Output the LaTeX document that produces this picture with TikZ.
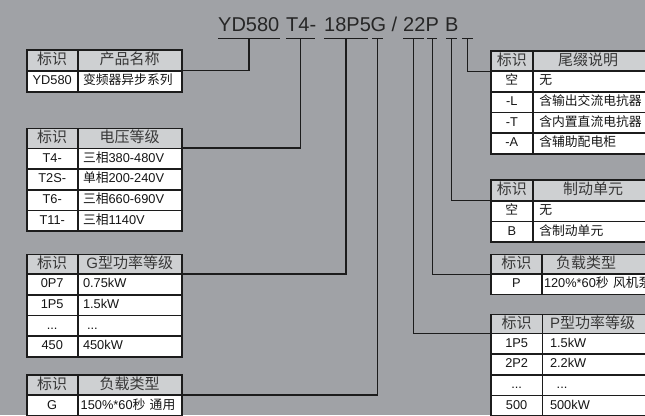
\documentclass[tikz,border=0pt]{standalone}
\usepackage{fontspec}
\setmainfont{Liberation Sans}
\newfontfamily\cjk{Noto Sans CJK SC}
\definecolor{bgC}{HTML}{A0A2A6}
\definecolor{hdrC}{HTML}{CED0D2}
\definecolor{lineC}{HTML}{1C1C1C}
\definecolor{hdrtxt}{HTML}{383838}
\definecolor{bodyC}{HTML}{151515}
\definecolor{titleC}{HTML}{262626}
\newcommand{\mkc}[7]{%
  \node[#6, minimum width=#4pt, minimum height=#5pt, text width=#4pt] (#1) at (#2,#3) {#7};}
\tikzset{
  cellbase/.style={draw=lineC, line width=1.6pt, inner sep=0pt, outer sep=0pt, anchor=north west},
  bc/.style={cellbase, fill=white, font=\fontsize{12.8}{14}\selectfont, text=bodyC, align=center, text height=9.6pt, text depth=2.6pt},
  bl/.style={bc, align=left},
  hc/.style={cellbase, fill=hdrC, font=\fontsize{15}{16}\selectfont, text=hdrtxt, align=center, text height=11.4pt, text depth=2.4pt},
  hl/.style={hc, align=left},
  ttl/.style={anchor=base west, inner sep=0pt, font=\fontsize{20}{22}\selectfont, text=titleC},
  ul/.style={draw=lineC, line width=1.8pt},
  connA/.style={draw=lineC, line width=1.3pt},
  connB/.style={draw=lineC, line width=1.8pt},
  connC/.style={draw=lineC, line width=1.0pt},
}
\begin{document}
\begin{tikzpicture}[x=1pt,y=-1pt]
\useasboundingbox (0,0) rectangle (645,415);
\clip (0,0) rectangle (645,415);
\fill[bgC] (0,0) rectangle (645,415);

% title pieces
\node[ttl] (tYD) at (218,31.7) {YD580};
\node[ttl] (tT4) at (286,31.7) {T4-};
\node[ttl] (t18) at (324,31.7) {18P5};
\node[ttl] (tG)  at (370.5,31.7) {G};
\node[ttl] (tSl) at (391.5,31.7) {/};
\node[ttl] (t22) at (403,31.7) {22};
\node[ttl] (tP)  at (425.5,31.7) {P};
\node[ttl] (tB)  at (445,31.7) {B};

% underline coordinates
\coordinate (ulYDa) at (218,38.5); \coordinate (ulYDb) at (280,38.5); \coordinate (uYD) at (249,38.5);
\coordinate (ulT4a) at (286,38.5); \coordinate (ulT4b) at (315,38.5); \coordinate (uT4) at (300.5,38.5);
\coordinate (ul18a) at (324,38.5); \coordinate (ul18b) at (368,38.5); \coordinate (u18) at (346,38.5);
\coordinate (ulGa) at (372,38.5);  \coordinate (ulGb) at (383,38.5);  \coordinate (uG) at (377.5,38.5);
\coordinate (ul22a) at (403,38.5); \coordinate (ul22b) at (424,38.5); \coordinate (u22) at (413.5,38.5);
\coordinate (ulPa) at (427,38.5);  \coordinate (ulPb) at (437,38.5);  \coordinate (uP) at (432,38.5);
\coordinate (ulBa) at (446,38.5);  \coordinate (ulBb) at (457,38.5);  \coordinate (uB) at (451.5,38.5);
\coordinate (ulSa) at (462,38.5);  \coordinate (ulSb) at (473,38.5);  \coordinate (uS) at (467.5,38.5);

\draw[ul] (ulYDa) -- (ulYDb);
\draw[ul] (ulT4a) -- (ulT4b);
\draw[ul] (ul18a) -- (ul18b);
\draw[ul] (ulGa) -- (ulGb);
\draw[ul] (ul22a) -- (ul22b);
\draw[ul] (ulPa) -- (ulPb);
\draw[ul] (ulBa) -- (ulBb);
\draw[ul] (ulSa) -- (ulSb);

% ---- Table A: product name
\mkc{Ah1}{26.7}{50}{51}{20.7}{hc}{\cjk 标识}
\mkc{Ah2}{77.7}{50}{104}{20.7}{hc}{\cjk 产品名称}
\mkc{Ar1}{26.7}{70.7}{51}{21}{bc}{YD580}
\mkc{Ar2}{77.7}{70.7}{104}{21}{bl}{\hspace*{5.3pt}{\cjk 变频器异步系列}}

% ---- Table B: voltage
\mkc{Bh1}{26.7}{128.3}{51}{20}{hc}{\cjk 标识}
\mkc{Bh2}{77.7}{128.3}{104}{20}{hc}{\cjk 电压等级}
\mkc{Ba1}{26.7}{148.3}{51}{20.7}{bc}{T4-}
\mkc{Ba2}{77.7}{148.3}{104}{20.7}{bl}{\hspace*{5.3pt}{\cjk 三相}380-480V}
\mkc{Bb1}{26.7}{169}{51}{20.7}{bc}{T2S-}
\mkc{Bb2}{77.7}{169}{104}{20.7}{bl}{\hspace*{5.3pt}{\cjk 单相}200-240V}
\mkc{Bc1}{26.7}{189.7}{51}{20.7}{bc}{T6-}
\mkc{Bc2}{77.7}{189.7}{104}{20.7}{bl}{\hspace*{5.3pt}{\cjk 三相}660-690V}
\mkc{Bd1}{26.7}{210.4}{51}{20.7}{bc}{T11-}
\mkc{Bd2}{77.7}{210.4}{104}{20.7}{bl}{\hspace*{5.3pt}{\cjk 三相}1140V}

% ---- Table C: G power
\mkc{Ch1}{26.7}{254.3}{51}{19.7}{hc}{\cjk 标识}
\mkc{Ch2}{77.7}{254.3}{104}{19.7}{hc}{G{\cjk 型功率等级}}
\mkc{Ca1}{26.7}{274}{51}{20.7}{bc}{0P7}
\mkc{Ca2}{77.7}{274}{104}{20.7}{bl}{\hspace*{5.3pt}0.75kW}
\mkc{Cb1}{26.7}{294.7}{51}{20.7}{bc}{1P5}
\mkc{Cb2}{77.7}{294.7}{104}{20.7}{bl}{\hspace*{5.3pt}1.5kW}
\mkc{Cc1}{26.7}{315.4}{51}{20.7}{bc}{...}
\mkc{Cc2}{77.7}{315.4}{104}{20.7}{bl}{\hspace*{9.3pt}...}
\mkc{Cd1}{26.7}{336.1}{51}{20.7}{bc}{450}
\mkc{Cd2}{77.7}{336.1}{104}{20.7}{bl}{\hspace*{5.3pt}450kW}

% ---- Table D: G load
\mkc{Dh1}{26.7}{375}{51}{20}{hc}{\cjk 标识}
\mkc{Dh2}{77.7}{375}{104}{20}{hc}{\cjk 负载类型}
\mkc{Da1}{26.7}{395}{51}{21}{bc}{G}
\mkc{Da2}{77.7}{395}{104}{21}{bl}{\hspace*{3pt}150\%*60{\cjk 秒} {\cjk 通用}}

% ---- Table E: suffix
\mkc{Eh1}{491}{51}{41.7}{20}{hc}{\cjk 标识}
\mkc{Eh2}{532.7}{51}{127.3}{20}{hl}{\hspace*{25.3pt}{\cjk 尾缀说明}}
\mkc{Ea1}{491}{71}{41.7}{20.7}{bc}{\cjk 空}
\mkc{Ea2}{532.7}{71}{127.3}{20.7}{bl}{\hspace*{6.6pt}{\cjk 无}}
\mkc{Eb1}{491}{91.7}{41.7}{20.7}{bc}{-L}
\mkc{Eb2}{532.7}{91.7}{127.3}{20.7}{bl}{\hspace*{6.6pt}{\cjk 含输出交流电抗器}}
\mkc{Ec1}{491}{112.4}{41.7}{20.7}{bc}{-T}
\mkc{Ec2}{532.7}{112.4}{127.3}{20.7}{bl}{\hspace*{6.6pt}{\cjk 含内置直流电抗器}}
\mkc{Ed1}{491}{133.1}{41.7}{20.7}{bc}{-A}
\mkc{Ed2}{532.7}{133.1}{127.3}{20.7}{bl}{\hspace*{6.6pt}{\cjk 含辅助配电柜}}

% ---- Table F: brake
\mkc{Fh1}{491}{180}{41.7}{20.7}{hc}{\cjk 标识}
\mkc{Fh2}{532.7}{180}{127.3}{20.7}{hl}{\hspace*{30.3pt}{\cjk 制动单元}}
\mkc{Fa1}{491}{200.7}{41.7}{20.7}{bc}{\cjk 空}
\mkc{Fa2}{532.7}{200.7}{127.3}{20.7}{bl}{\hspace*{6.6pt}{\cjk 无}}
\mkc{Fb1}{491}{221.4}{41.7}{20.7}{bc}{B}
\mkc{Fb2}{532.7}{221.4}{127.3}{20.7}{bl}{\hspace*{6.6pt}{\cjk 含制动单元}}

% ---- Table G: P load
\mkc{Gh1}{491}{254.3}{50.7}{19.7}{hc}{\cjk 标识}
\mkc{Gh2}{541.7}{254.3}{118.3}{19.7}{hl}{\hspace*{14.3pt}{\cjk 负载类型}}
\mkc{Ga1}{491}{274}{50.7}{20.3}{bc}{P}
\mkc{Ga2}{541.7}{274}{118.3}{20.3}{bl}{\hspace*{2.3pt}120\%*60{\cjk 秒} {\cjk 风机泵}}

% ---- Table H: P power
\mkc{Hh1}{491}{314.3}{51.3}{19}{hc}{\cjk 标识}
\mkc{Hh2}{542.3}{314.3}{117.7}{19}{hl}{\hspace*{7.7pt}P{\cjk 型功率等级}}
\mkc{Ha1}{491}{333.3}{51.3}{20.7}{bc}{1P5}
\mkc{Ha2}{542.3}{333.3}{117.7}{20.7}{bl}{\hspace*{7.7pt}1.5kW}
\mkc{Hb1}{491}{354}{51.3}{20.7}{bc}{2P2}
\mkc{Hb2}{542.3}{354}{117.7}{20.7}{bl}{\hspace*{7.7pt}2.2kW}
\mkc{Hc1}{491}{374.7}{51.3}{20.7}{bc}{...}
\mkc{Hc2}{542.3}{374.7}{117.7}{20.7}{bl}{\hspace*{14.4pt}...}
\mkc{Hd1}{491}{395.4}{51.3}{20.7}{bc}{500}
\mkc{Hd2}{542.3}{395.4}{117.7}{20.7}{bl}{\hspace*{7.7pt}500kW}

% connectors
\draw[connA] (uYD) |- (Ah2.south east);
\draw[connB] (uT4) |- (Bh2.south east);
\draw[connB] (u18) |- (Ch2.south east);
\draw[connB] (uG) |- (Dh2.south east);
\draw[connA] (u22) |- (Hh1.south west);
\draw[connC] (uP) |- (Gh1.south west);
\draw[connC] (uB) |- (Fh1.south west);
\draw[connC] (uS) |- (Eh1.south west);
\end{tikzpicture}
\end{document}
